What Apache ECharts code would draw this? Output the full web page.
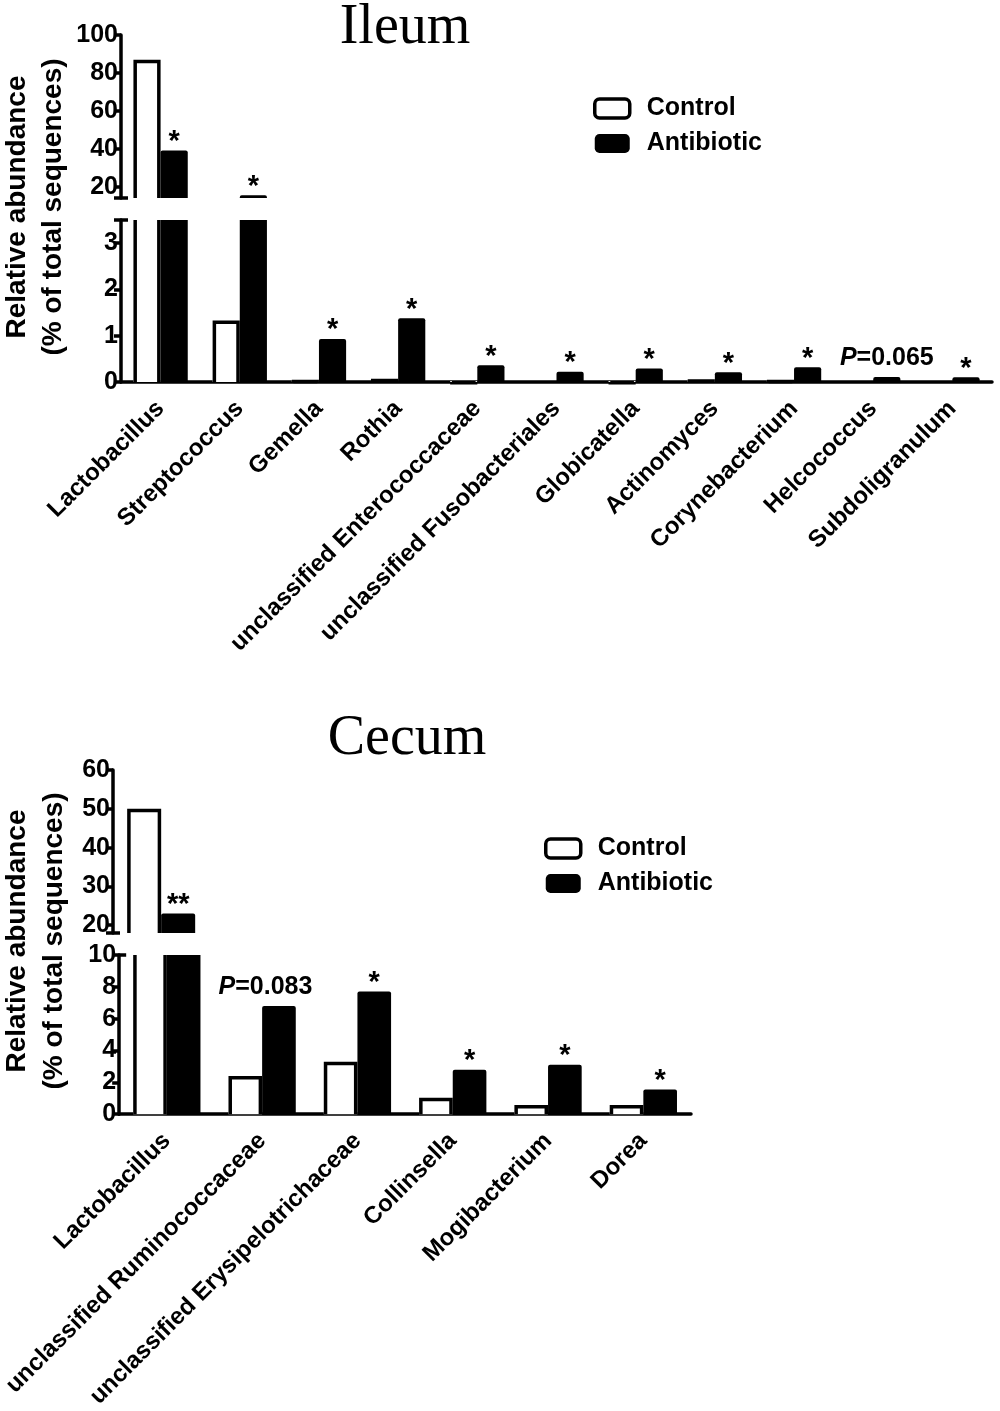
<!DOCTYPE html>
<html>
<head>
<meta charset="utf-8">
<title>Ileum / Cecum relative abundance</title>
<script src="https://cdn.jsdelivr.net/npm/echarts@6/dist/echarts.min.js"></script>
<style>
  html, body { margin: 0; padding: 0; background: #fff; }
  #chart { width: 1000px; height: 1411px; }
</style>
</head>
<body>
<div id="chart"></div>
<script>
// ---- data ----
const ileumGenera = [
  "Lactobacillus", "Streptococcus", "Gemella", "Rothia",
  "unclassified Enterococcaceae", "unclassified Fusobacteriales",
  "Globicatella", "Actinomyces", "Corynebacterium", "Helcococcus",
  "Subdoligranulum"
];
const ileumControl = [87, 1.33, 0.05, 0.07, 0.02, 0.01, 0.02, 0.06, 0.05, 0.01, 0.01];
const ileumAntibiotic = [39, 15.5, 0.93, 1.38, 0.36, 0.22, 0.29, 0.21, 0.32, 0.11, 0.1];
const ileumSig = ["*", "*", "*", "*", "*", "*", "*", "*", "*", "P=0.065", "*"];

const cecumGenera = [
  "Lactobacillus", "unclassified Ruminococcaceae",
  "unclassified Erysipelotrichaceae", "Collinsella", "Mogibacterium", "Dorea"
];
const cecumControl = [50, 2.4, 3.3, 1.03, 0.58, 0.58];
const cecumAntibiotic = [23, 6.8, 7.7, 2.8, 3.1, 1.56];
const cecumSig = ["**", "P=0.083", "*", "*", "*", "*"];

// broken y axes: [min, max], tick values, labelled values
const ileumUpperRange = [14, 100];
const ileumUpperTicks = [14, 20, 40, 60, 80, 100];
const ileumUpperLabels = [20, 40, 60, 80, 100];
const ileumLowerRange = [0, 3.5];
const ileumLowerTicks = [0, 1, 2, 3, 3.5];
const ileumLowerLabels = [0, 1, 2, 3];

const cecumUpperRange = [18, 60];
const cecumUpperTicks = [18, 20, 30, 40, 50, 60];
const cecumUpperLabels = [20, 30, 40, 50, 60];
const cecumLowerRange = [0, 10];
const cecumLowerTicks = [0, 2, 4, 6, 8, 10];
const cecumLowerLabels = [0, 2, 4, 6, 8, 10];

// ---- chart ----
const FONT = '"Liberation Sans", Arial, Helvetica, sans-serif';
const SERIF = '"Liberation Serif", "Times New Roman", serif';
const LW = 3.5;

let dom = document.getElementById("chart");
let myChart = echarts.init(dom, null, { renderer: "canvas" });

// bars drawn with the axes' own coordinates, cut open where the axis breaks
// pShift: horizontal shift of the P= note, in bar widths
function barRenderer(kind, labels, frac, pShift) {
  return function (params, api) {
    const i = api.value(0);
    const v = api.value(1);
    const cs = params.coordSys;
    const w = api.size([1, 0])[0] * frac;
    const cx = api.coord([i, 0])[0];
    const x0 = kind === "control" ? cx - w : cx;
    const yTop = api.coord([i, v])[1];
    const yBase = api.coord([i, 0])[1];
    const top = Math.max(yTop, cs.y);
    const bottom = Math.min(yBase, cs.y + cs.height);
    if (bottom - top < 0.5) return null;
    const cutTop = yTop < cs.y;
    const children = [];
    if (kind === "control") {
      const h = 1.75;
      children.push({
        type: "rect",
        shape: { x: x0, y: top, width: w, height: bottom - top },
        style: { fill: "#fff" }
      });
      if (cutTop) {
        children.push({ type: "line", shape: { x1: x0 + h, y1: top, x2: x0 + h, y2: bottom },
          style: { stroke: "#000", lineWidth: 3.5 } });
        children.push({ type: "line", shape: { x1: x0 + w - h, y1: top, x2: x0 + w - h, y2: bottom },
          style: { stroke: "#000", lineWidth: 3.5 } });
      } else {
        children.push({
          type: "polyline",
          shape: { points: [[x0 + h, bottom], [x0 + h, top + h], [x0 + w - h, top + h], [x0 + w - h, bottom]] },
          style: { stroke: "#000", lineWidth: 3.5, fill: null }
        });
      }
    } else {
      children.push({
        type: "rect",
        shape: { x: x0, y: top, width: w, height: bottom - top, r: cutTop ? 0 : [2, 2, 0, 0] },
        style: { fill: "#000" }
      });
      const lab = labels[i];
      if (lab && !cutTop) {
        const isP = lab.charAt(0) === "P";
        children.push({
          type: "text",
          x: x0 + w / 2 + (isP ? pShift * w : 0),
          y: isP ? yTop - 6 : yTop + 6,
          style: {
            text: isP ? "{i|P}" + lab.slice(1) : lab,
            fill: "#000",
            fontFamily: FONT,
            fontWeight: "bold",
            fontSize: isP ? 25 : 29,
            align: "center",
            verticalAlign: "bottom",
            rich: {
              i: { fontStyle: "italic", fontWeight: "bold", fontSize: 25, fontFamily: FONT, fill: "#000" }
            }
          }
        });
      }
    }
    return { type: "group", children: children };
  };
}

function pairs(arr) {
  return arr.map((v, i) => [i, v]);
}

const grids = [
  { left: 121, top: 35, width: 871, height: 163 },   // ileum upper
  { left: 121, top: 220, width: 871, height: 162 },  // ileum lower
  { left: 113, top: 770, width: 578, height: 163 },  // cecum upper
  { left: 113, top: 955, width: 578, height: 163 }   // cecum lower
];

const axisLineStyle = { color: "#000", width: LW };

function xAx(gridIndex, cats, shown) {
  if (!shown) {
    return { type: "category", gridIndex: gridIndex, data: cats, show: false };
  }
  return {
    type: "category",
    gridIndex: gridIndex,
    data: cats,
    axisLine: { lineStyle: axisLineStyle },
    axisTick: { alignWithLabel: true, length: 8, lineStyle: axisLineStyle },
    axisLabel: {
      interval: 0, rotate: 45, margin: 23, color: "#000",
      fontFamily: FONT, fontWeight: "bold", fontSize: 24
    },
    splitLine: { show: false }
  };
}

function yAx(gridIndex, range, ticks, labels) {
  return {
    type: "value",
    gridIndex: gridIndex,
    position: "left",
    min: range[0],
    max: range[1],
    axisLine: { show: true, lineStyle: axisLineStyle },
    axisTick: { show: true, length: 7, lineStyle: axisLineStyle, customValues: ticks },
    axisLabel: {
      customValues: labels, margin: 3, color: "#000",
      fontFamily: FONT, fontWeight: "bold", fontSize: 25
    },
    splitLine: { show: false }
  };
}

// second axis on each grid that only draws the inner half of the break mark
function capAx(gridIndex, range, at) {
  return {
    type: "value",
    gridIndex: gridIndex,
    position: "left",
    offset: 0,
    min: range[0],
    max: range[1],
    axisLine: { show: false },
    axisLabel: { show: false },
    axisTick: { show: true, inside: true, length: 7, lineStyle: axisLineStyle, customValues: [at] },
    splitLine: { show: false }
  };
}

function barSeries(name, kind, gridIdx, data, labels, frac, pShift) {
  return {
    type: "custom",
    name: name,
    xAxisIndex: gridIdx,
    yAxisIndex: gridIdx,
    data: pairs(data),
    encode: { x: 0, y: 1 },
    itemStyle: kind === "control"
      ? { color: "#fff", borderColor: "#000", borderWidth: 3 }
      : { color: "#000" },
    renderItem: barRenderer(kind, labels, frac, pShift || 0),
    silent: true
  };
}

const legendData = [
  { name: "Control", itemStyle: { color: "#fff", borderColor: "#000", borderWidth: 3.5 } },
  { name: "Antibiotic", itemStyle: { color: "#000", borderColor: "#000", borderWidth: 0 } }
];

function legendAt(left, top) {
  return {
    orient: "vertical",
    left: left,
    top: top,
    padding: 0,
    icon: "roundRect",
    itemWidth: 35,
    itemHeight: 19,
    itemGap: 10,
    selectedMode: false,
    data: legendData,
    textStyle: {
      color: "#000", fontFamily: FONT, fontWeight: "bold", fontSize: 25,
      padding: [0, 0, 0, 12]
    }
  };
}

const yName = "Relative abundance\n(% of total sequences)";

option = {
  animation: false,
  backgroundColor: "#fff",
  title: [
    {
      text: "Ileum", left: 405, top: 0, textAlign: "center", padding: 0,
      textStyle: { fontFamily: SERIF, fontWeight: "normal", fontSize: 56, color: "#000" }
    },
    {
      text: "Cecum", left: 407, top: 711, textAlign: "center", padding: 0,
      textStyle: { fontFamily: SERIF, fontWeight: "normal", fontSize: 56, color: "#000" }
    }
  ],
  legend: [legendAt(593, 96), legendAt(544, 836)],
  grid: grids,
  xAxis: [
    xAx(0, ileumGenera, false),
    xAx(1, ileumGenera, true),
    xAx(2, cecumGenera, false),
    xAx(3, cecumGenera, true)
  ],
  yAxis: [
    yAx(0, ileumUpperRange, ileumUpperTicks, ileumUpperLabels),
    yAx(1, ileumLowerRange, ileumLowerTicks, ileumLowerLabels),
    yAx(2, cecumUpperRange, cecumUpperTicks, cecumUpperLabels),
    yAx(3, cecumLowerRange, cecumLowerTicks, cecumLowerLabels),
    capAx(0, ileumUpperRange, ileumUpperRange[0]),
    capAx(1, ileumLowerRange, ileumLowerRange[1]),
    capAx(2, cecumUpperRange, cecumUpperRange[0]),
    capAx(3, cecumLowerRange, cecumLowerRange[1])
  ],
  graphic: [
    {
      type: "text", x: 35, y: 207, rotation: Math.PI / 2,
      style: {
        text: yName, fill: "#000", fontFamily: FONT, fontWeight: "bold",
        fontSize: 28, lineHeight: 36, align: "center", verticalAlign: "middle"
      }
    },
    {
      type: "text", x: 36, y: 941, rotation: Math.PI / 2,
      style: {
        text: yName, fill: "#000", fontFamily: FONT, fontWeight: "bold",
        fontSize: 28, lineHeight: 37, align: "center", verticalAlign: "middle"
      }
    }
  ],
  series: [
    barSeries("Control", "control", 0, ileumControl, ileumSig, 0.343),
    barSeries("Antibiotic", "antibiotic", 0, ileumAntibiotic, ileumSig, 0.343),
    barSeries("Control", "control", 1, ileumControl, ileumSig, 0.343),
    barSeries("Antibiotic", "antibiotic", 1, ileumAntibiotic, ileumSig, 0.343),
    barSeries("Control", "control", 2, cecumControl, cecumSig, 0.353, -0.4),
    barSeries("Antibiotic", "antibiotic", 2, cecumAntibiotic, cecumSig, 0.353, -0.4),
    barSeries("Control", "control", 3, cecumControl, cecumSig, 0.353, -0.4),
    barSeries("Antibiotic", "antibiotic", 3, cecumAntibiotic, cecumSig, 0.353, -0.4)
  ]
};

myChart.setOption(option);

window.addEventListener("resize", function () {
  if (myChart) {
    myChart.resize();
  }
});
</script>
</body>
</html>
